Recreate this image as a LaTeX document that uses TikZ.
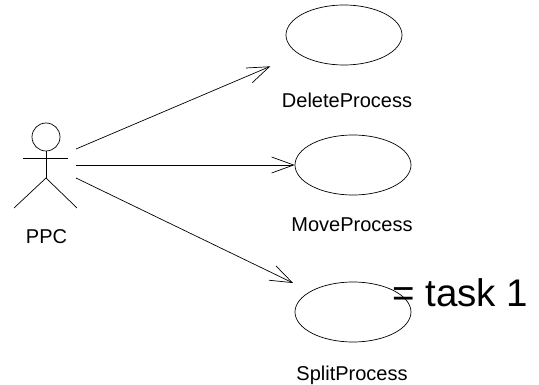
\documentclass[tikz,border=0pt]{standalone}
\usepackage{fontspec}
\setmainfont{Liberation Sans}
\usetikzlibrary{shapes.geometric,arrows.meta}
\begin{document}
\begin{tikzpicture}[x=1pt,y=-1pt,
  usecase/.style={draw,ellipse,line width=0.7pt,minimum width=116pt,minimum height=60pt,inner sep=0pt},
  lbl/.style={font=\fontsize{20}{24}\selectfont,inner sep=0pt},
  assoc/.style={line width=0.7pt,-{Straight Barb[length=22pt,width=16pt,line width=0.7pt]}},
  stick/.style={line width=0.7pt}]
\useasboundingbox (0,0) rectangle (539,385);
% actor
\node[draw,circle,stick,minimum size=28pt,inner sep=0pt] (head) at (46,137) {};
\draw[stick] (head.south) -- (46,178) coordinate (hip);
\draw[stick] (23,158) -- (68,158);
\draw[stick] (hip) -- (14,208);
\draw[stick] (hip) -- (77,208);
\node[lbl] (ppc) at (46.5,237) {PPC};
\coordinate (s1) at (76,149);
\coordinate (s2) at (76,165);
\coordinate (s3) at (76,178);
% use cases
\node[usecase] (del) at (344,35) {};
\node[usecase] (mov) at (353,165) {};
\node[usecase] (spl) at (353,312) {};
\node[lbl] (dell) at (347,100) {DeleteProcess};
\node[lbl] (movl) at (352,225) {MoveProcess};
\node[lbl] (spll) at (352,375) {SplitProcess};
% associations
\draw[assoc,shorten >=31pt] (s1) -- (del);
\draw[assoc] (s2) -- (mov);
\draw[assoc,shorten >=19pt] (s3) -- (spl);
% note
\node[font=\fontsize{38.5}{46}\selectfont,anchor=base west,inner sep=0pt] (task) at (392,306.5) {= task 1};
\end{tikzpicture}
\end{document}
